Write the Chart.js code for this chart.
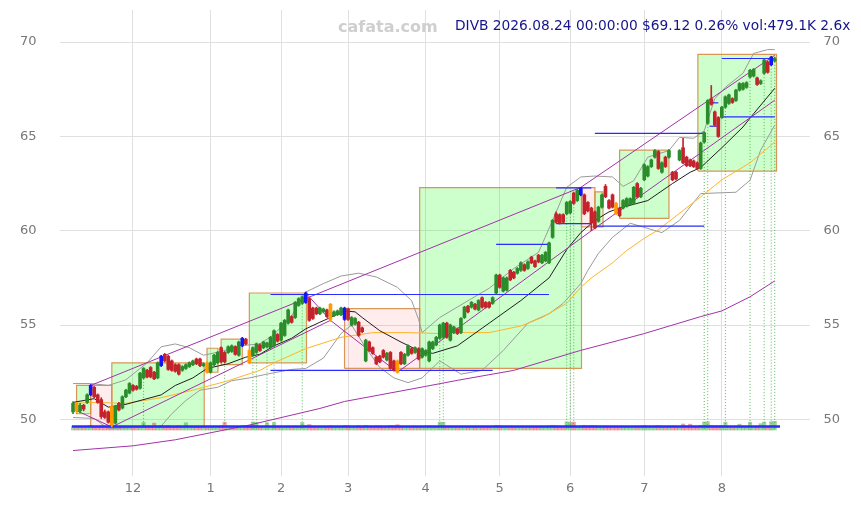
<!DOCTYPE html>
<html>
<head>
<meta charset="utf-8">
<script src="https://cdn.jsdelivr.net/npm/chart.js@4.4.1/dist/chart.umd.min.js"></script>
<style>
  body { margin: 0; background: #fff; }
  #wrap { position: relative; width: 861px; height: 505px; }
  .mark { position: absolute; top: 17px; left: 338px; line-height: 18px; font: bold 16px "DejaVu Sans"; color: #cfcfcf; }
  .title { position: absolute; top: 17px; left: 455px; line-height: 18px; font: 13.75px "DejaVu Sans"; color: #14148c; white-space: nowrap; }
</style>
</head>
<body>
<div id="wrap">
  <canvas id="chart" width="861" height="505"></canvas>
  <div class="mark">cafata.com</div>
  <div class="title">DIVB 2026.08.24 00:00:00 $69.12 0.26% vol:479.1K 2.6x</div>
</div>
<script>
// daily candles, 2025-11-05 .. 2026-08-24 (trading day index 0..199)
const opens = [
  50.4,50.85,50.45,50.75,50.9,51.3,51.7,51.3,51.05,50.4,
  50.4,50.7,49.8,50.85,50.6,51.2,51.4,51.8,51.75,51.65,
  52.2,52.6,52.75,52.5,52.2,52.85,53.45,53.35,53.1,52.9,
  52.9,52.6,52.7,52.8,52.9,53.2,53.2,52.85,53.0,52.5,
  52.9,53.0,53.8,53.55,53.55,53.6,53.85,53.4,53.9,54.25,
  53.65,53.4,53.55,53.95,53.8,53.85,53.8,53.9,54.5,54.2,
  54.45,55.1,55.45,55.4,56.05,56.15,56.2,56.4,55.9,55.9,
  55.6,55.7,55.8,56.1,55.5,55.55,55.55,55.3,55.85,55.0,
  55.05,55.15,54.85,53.1,54.1,53.8,53.3,53.35,53.65,53.15,
  53.55,53.1,53.1,53.55,52.95,53.4,53.75,53.55,53.75,53.3,
  53.4,53.1,53.75,53.95,54.3,54.35,55.1,54.2,54.6,54.8,
  54.6,55.4,56.0,55.95,56.1,55.8,56.45,56.2,56.2,56.15,
  56.7,57.65,56.8,56.85,57.9,57.8,57.75,57.9,58.2,58.0,
  58.6,58.4,58.7,58.3,58.4,58.3,59.65,60.9,60.85,60.85,
  60.9,60.95,62.0,61.6,61.9,61.9,61.5,61.2,61.0,60.5,
  61.25,62.35,61.6,61.9,61.45,61.2,61.2,61.3,61.4,61.45,
  62.5,61.8,62.7,62.9,63.4,63.9,64.2,63.1,63.9,63.9,
  63.1,63.1,63.75,64.4,63.9,63.75,63.7,63.6,63.3,64.7,
  65.7,67.0,66.3,66.0,66.0,66.55,66.75,67.0,66.9,67.45,
  67.5,67.6,68.15,68.2,68.1,67.8,68.35,68.95,68.8,69.0
];
const highs = [
  50.95,50.9,50.85,50.8,51.35,51.85,51.75,51.35,51.15,50.5,
  50.45,50.75,50.75,50.9,51.25,51.6,51.95,51.85,51.8,52.5,
  52.75,52.65,52.8,52.55,53.05,53.4,53.5,53.4,53.15,52.95,
  52.95,52.85,52.95,53.05,53.15,53.25,53.25,53.0,53.05,53.05,
  53.45,53.6,53.85,53.6,53.9,53.95,53.9,54.15,54.35,54.3,
  53.7,53.85,54.05,54.0,54.15,54.1,54.4,54.75,54.55,55.15,
  55.3,55.85,55.5,56.25,56.45,56.55,56.75,56.45,55.95,55.95,
  55.95,55.9,55.85,56.15,55.75,55.8,55.95,55.95,55.9,55.45,
  55.4,55.2,54.9,54.25,54.15,53.85,53.35,53.4,53.7,53.55,
  53.6,53.15,53.15,53.6,53.5,53.95,53.8,53.85,53.8,53.8,
  53.7,54.15,54.15,54.4,55.05,55.15,55.15,55.05,54.95,54.85,
  55.4,56.0,56.05,56.25,56.15,56.35,56.5,56.25,56.25,56.5,
  57.7,57.7,57.55,57.55,57.95,57.85,58.05,58.35,58.25,58.4,
  58.65,58.45,58.75,58.75,58.9,59.4,60.6,61.0,60.9,60.9,
  61.55,61.6,62.05,62.2,62.3,61.95,61.55,61.25,61.05,61.3,
  61.95,62.45,61.65,61.95,61.5,61.25,61.65,61.75,61.75,62.35,
  62.55,62.3,63.55,63.45,63.8,64.3,64.25,63.65,63.95,64.3,
  63.15,63.15,64.3,64.9,63.95,63.8,63.75,63.65,64.7,65.25,
  66.95,67.7,66.35,66.05,66.6,67.15,67.25,67.05,67.5,67.85,
  67.85,67.9,68.55,68.6,68.15,68.0,69.1,69.0,69.25,69.2
];
const lows = [
  50.3,50.3,50.35,50.45,50.85,51.25,51.15,50.85,50.05,50.05,
  49.8,49.6,49.75,50.45,50.55,51.15,51.35,51.5,51.55,51.6,
  52.15,52.2,52.2,52.1,52.15,52.8,53.05,52.6,52.55,52.5,
  52.35,52.55,52.65,52.75,52.85,52.9,52.8,52.8,52.45,52.45,
  52.85,52.95,53.0,53.0,53.5,53.55,53.4,53.35,53.85,53.95,
  52.95,53.35,53.5,53.6,53.75,53.8,53.75,53.85,54.1,54.15,
  54.4,55.05,55.1,55.35,56.0,56.1,56.15,55.2,55.3,55.55,
  55.55,55.65,55.4,55.2,55.45,55.5,55.5,55.25,55.25,54.95,
  55.0,54.4,54.6,53.05,53.6,53.45,52.9,53.0,53.25,53.1,
  52.65,52.55,52.45,52.9,52.9,53.35,53.45,53.5,53.15,53.25,
  53.35,53.05,53.7,53.9,54.25,54.3,54.3,54.15,54.55,54.5,
  54.55,55.35,55.65,55.9,55.8,55.75,55.9,55.9,55.9,56.1,
  56.65,56.95,56.75,56.8,57.35,57.45,57.7,57.85,57.85,57.95,
  58.25,58.05,58.3,58.25,58.35,58.25,59.6,60.4,60.35,60.4,
  60.85,60.9,61.4,61.55,61.85,60.85,61.0,60.0,60.1,60.45,
  61.2,61.75,61.15,61.2,60.85,60.75,61.15,61.25,61.35,61.4,
  61.75,61.75,62.65,62.85,63.35,63.85,63.25,63.05,63.35,63.85,
  62.65,62.7,63.7,63.55,63.4,63.4,63.35,63.25,63.25,64.65,
  65.65,66.65,65.55,64.95,65.95,66.5,66.7,66.75,66.85,67.4,
  67.45,67.55,68.1,68.15,67.7,67.75,68.3,68.35,68.75,68.95
];
const closes = [
  50.85,50.45,50.75,50.55,51.3,51.8,51.2,50.9,50.15,50.1,
  49.85,49.7,50.7,50.5,51.2,51.55,51.9,51.55,51.6,52.45,
  52.7,52.25,52.25,52.15,53.0,53.35,53.1,52.65,52.6,52.55,
  52.4,52.8,52.9,53.0,53.1,52.95,52.85,52.95,52.5,53.0,
  53.4,53.55,53.05,53.05,53.85,53.9,53.45,54.1,54.3,54.0,
  53.0,53.8,54.0,53.65,54.1,54.05,54.35,54.7,54.15,55.1,
  55.25,55.8,55.15,56.2,56.4,56.5,56.7,55.25,55.35,55.6,
  55.9,55.85,55.45,55.3,55.7,55.75,55.9,55.9,55.3,55.4,
  55.35,54.45,54.65,54.2,53.65,53.5,52.95,53.05,53.3,53.5,
  52.7,52.6,52.5,52.95,53.45,53.9,53.5,53.8,53.2,53.75,
  53.65,54.1,54.1,54.35,55.0,55.1,54.35,55.0,54.9,54.55,
  55.35,55.95,55.7,56.2,55.85,56.3,55.95,55.95,55.95,56.45,
  57.65,57.0,57.5,57.5,57.4,57.5,58.0,58.3,57.9,58.35,
  58.3,58.1,58.35,58.7,58.85,59.35,60.55,60.45,60.4,60.45,
  61.5,61.55,61.45,62.15,62.25,60.9,61.05,60.4,60.15,61.25,
  61.9,61.8,61.2,61.25,60.9,60.8,61.6,61.7,61.7,62.3,
  61.8,62.25,63.5,63.4,63.75,64.25,63.3,63.6,63.4,64.25,
  62.7,62.75,64.25,63.6,63.45,63.45,63.4,63.3,64.65,65.2,
  66.9,66.7,65.6,65.0,66.55,67.1,67.2,66.8,67.45,67.8,
  67.8,67.85,68.5,68.55,67.75,67.95,69.05,68.4,69.2,69.12
];
// volume in thousands
const volumes = [
  210,180,160,190,170,260,200,180,230,190,
  220,300,250,180,170,160,190,150,170,200,
  420,230,210,380,190,250,210,240,200,180,
  230,190,400,170,160,150,180,190,210,160,
  170,190,230,430,180,160,170,190,240,200,
  260,440,420,180,190,400,170,410,160,200,
  190,210,170,220,180,410,260,300,210,190,
  160,150,170,230,160,150,170,240,230,180,
  170,240,190,260,210,200,230,220,180,170,
  240,230,290,210,180,190,170,160,200,190,
  180,230,170,190,430,420,200,210,170,160,
  190,200,170,160,150,180,170,160,150,170,
  260,230,190,200,220,180,170,190,160,170,
  180,170,190,170,160,220,260,230,210,200,
  450,420,430,200,220,260,230,250,240,220,
  200,230,190,210,220,200,170,160,150,200,
  210,170,240,180,190,220,240,190,200,210,
  230,200,190,330,220,320,210,200,260,440,
  450,260,240,250,250,430,200,190,210,320,
  200,190,430,180,200,350,440,210,460,479.1
];

const blueCandles = [5, 25, 48, 66, 77, 144, 198];
const orangeCandles = [1, 11, 38, 50, 73, 92, 154];
const spikeDays = [20, 43, 51, 52, 55, 57, 65, 104, 105, 140, 141, 142, 179, 180, 185, 192, 196, 198, 199];

const monthTicks = [17, 39, 59, 78, 100, 121, 141, 162, 184];
const monthLabels = ['12', '1', '2', '3', '4', '5', '6', '7', '8'];
const priceTicks = [50, 55, 60, 65, 70];

// indicator lines, [day, price]
const shortMA = [[0,50.9],[6,51.1],[10,50.65],[15,50.8],[19,51.0],[25,51.3],[29,51.8],[34,52.2],[38,52.7],
  [44,52.95],[49,53.3],[53,53.45],[57,53.9],[62,54.3],[66,54.8],[70,55.15],[73,55.4],[77,55.75],[80,55.7],
  [82,55.4],[87,54.7],[93,54.1],[98,53.65],[102,53.5],[109,53.9],[118,55.1],[127,56.3],[135,57.5],[140,59.0],
  [144,59.9],[148,60.55],[152,61.0],[155,61.2],[163,61.6],[170,62.5],[175,63.1],[178,63.35],[184,64.4],
  [190,65.5],[193,66.2],[199,67.55]];
const midMA = [[0,50.85],[6,50.9],[15,50.85],[25,51.15],[34,51.55],[44,52.05],[53,52.6],[57,53.0],[66,53.75],
  [76,54.35],[85,54.6],[95,54.6],[104,54.55],[108,54.6],[118,54.6],[127,54.95],[133,55.4],[140,56.15],
  [144,57.0],[147,57.5],[153,58.3],[157,58.95],[162,59.6],[166,60.05],[178,61.8],[184,62.7],[192,63.6],[199,64.7]];
const longMA = [[0,48.35],[17,48.6],[29,48.92],[50,49.7],[70,50.58],[77,50.95],[100,51.75],[109,52.07],
  [125,52.6],[144,53.66],[155,54.2],[162,54.55],[178,55.45],[184,55.75],[192,56.5],[199,57.34]];
const upperBand = [[0,51.9],[5,51.9],[10,51.8],[15,52.1],[21,53.0],[25,53.85],[29,54.0],[33,53.8],[37,53.4],
  [42,53.6],[47,53.9],[53,54.0],[57,54.5],[62,55.5],[66,56.75],[71,57.2],[76,57.6],[81,57.75],[86,57.55],
  [92,57.0],[96,56.3],[98,55.3],[99,54.6],[104,55.4],[113,56.4],[118,56.95],[125,58.0],[132,58.85],
  [136,60.55],[140,62.3],[144,62.85],[148,62.9],[153,62.85],[156,62.35],[159,62.65],[163,63.9],[169,64.25],
  [172,64.95],[176,64.9],[179,65.3],[182,67.0],[185,67.6],[190,68.35],[193,69.4],[197,69.6],[199,69.6]];
const lowerBand = [[0,50.1],[6,50.05],[10,49.5],[21,49.6],[25,49.65],[28,50.3],[32,51.0],[36,51.55],[41,51.7],
  [45,52.05],[50,52.2],[55,52.4],[62,52.65],[66,52.7],[71,53.25],[76,54.55],[79,55.0],[83,53.8],[87,52.75],
  [91,52.2],[95,51.95],[99,52.2],[104,53.1],[110,52.4],[116,52.6],[122,53.65],[129,55.1],[135,55.6],
  [139,56.15],[144,57.2],[146,57.9],[149,58.8],[153,59.65],[158,60.4],[167,59.9],[172,60.55],[178,61.97],
  [188,62.04],[192,62.68],[195,64.27],[199,65.6]];

// swing boxes: [fromDay, toDay, low, high, rising]
const boxes = [
  [1, 5, 50.3, 51.8, true],
  [5, 11, 49.6, 51.8, false],
  [11, 37.2, 49.6, 53.0, true],
  [38, 41.1, 52.5, 53.77, true],
  [42, 48, 52.9, 54.25, true],
  [50, 66.2, 53.0, 56.7, true],
  [77, 98.3, 52.7, 55.87, false],
  [98.3, 144.2, 52.7, 62.29, true],
  [144.2, 148, 60.2, 62.29, false],
  [148, 150.3, 60.2, 62.06, true],
  [155, 169, 60.65, 64.27, true],
  [177.2, 199.5, 63.16, 69.35, true]
];
// support / resistance: [fromDay, toDay, price]
const levels = [
  [56, 135, 56.62], [56, 119, 52.6], [120, 135, 59.28],
  [137, 147, 62.27], [137, 147, 60.38], [148, 179, 60.24], [148, 179, 65.16],
  [184, 199, 69.13], [184, 199, 66.04], [180.5, 183, 66.78], [180.5, 183, 65.54]
];
const floorLevel = [-0.3, 200.5, 49.62];
// trend lines: [day1, price1, day2, price2]
const trends = [
  [0, 50.55, 11, 49.6], [11, 49.6, 73, 55.25], [66, 56.7, 73, 55.25], [73, 55.25, 92, 52.5],
  [92, 52.5, 147, 60.0], [147, 60.0, 199, 66.92], [5, 51.8, 144, 62.3], [144, 62.3, 199, 69.3]
];

const days = closes.map((c, i) => i);
const pts = arr => arr.map(([x, y]) => ({x, y}));

function candleColor(i) {
  if (blueCandles.includes(i)) return '#1414ff';
  if (orangeCandles.includes(i)) return '#ff9a00';
  return closes[i] >= opens[i] ? '#2a8c2a' : '#c4232b';
}

const datasets = [];
datasets.push({
  type: 'bar', data: days.map(i => ({x: i, y: [opens[i], closes[i]]})),
  backgroundColor: days.map(candleColor), barThickness: 3, grouped: false, order: 1
});
datasets.push({
  type: 'bar', data: days.map(i => ({x: i, y: [lows[i], highs[i]]})),
  backgroundColor: days.map(candleColor), barThickness: 1, grouped: false, order: 2
});

const lineStyle = (color, width, order) => ({
  type: 'line', borderColor: color, borderWidth: width, pointRadius: 0, fill: false, order: order
});

levels.concat([floorLevel]).forEach(([a, b, p]) => {
  const isFloor = p === floorLevel[2];
  datasets.push(Object.assign(lineStyle('#2b2bff', isFloor ? 2.5 : 1.2, 3),
    {data: [{x: a, y: p}, {x: b, y: p}]}));
});

trends.forEach(([a, pa, b, pb]) => {
  datasets.push(Object.assign(lineStyle('#a232a8', 1, 4), {data: [{x: a, y: pa}, {x: b, y: pb}]}));
});

datasets.push(Object.assign(lineStyle('#1e1e1e', 1, 5), {data: pts(shortMA)}));
datasets.push(Object.assign(lineStyle('#ffb428', 1, 5), {data: pts(midMA)}));
datasets.push(Object.assign(lineStyle('#a232a8', 1, 5), {data: pts(longMA)}));
datasets.push(Object.assign(lineStyle('#9a9a9a', 1, 6), {data: pts(upperBand)}));
datasets.push(Object.assign(lineStyle('#9a9a9a', 1, 6), {data: pts(lowerBand)}));

datasets.push({
  type: 'bar', yAxisID: 'yv', data: days.map(i => ({x: i, y: volumes[i]})),
  backgroundColor: days.map(i => closes[i] >= opens[i] ? 'rgba(40,160,40,0.45)' : 'rgba(210,50,60,0.45)'),
  barThickness: 3.4, grouped: false, order: 7
});

spikeDays.forEach(i => {
  datasets.push(Object.assign(lineStyle('rgba(40,160,40,0.75)', 1, 8),
    {borderDash: [1, 2], data: [{x: i, y: lows[i]}, {x: i, y: 49.45}]}));
});

boxes.forEach(([a, b, lo, hi, up]) => {
  datasets.push({
    type: 'line', order: 9, pointRadius: 0, fill: 'shape',
    borderColor: 'rgba(214,140,70,0.9)', borderWidth: 1.2,
    backgroundColor: up ? 'rgba(0,255,0,0.2)' : 'rgba(255,0,0,0.075)',
    data: [{x: a, y: lo}, {x: b, y: lo}, {x: b, y: hi}, {x: a, y: hi}, {x: a, y: lo}]
  });
});

const tickFont = {family: 'DejaVu Sans', size: 13};
const priceAxis = (pos, width) => ({
  position: pos, min: 47.0, max: 71.7,
  afterBuildTicks: s => { s.ticks = priceTicks.map(v => ({value: v})); },
  afterFit: s => { s.width = width; },
  ticks: {color: '#777', font: tickFont, padding: 0, crossAlign: 'far'},
  grid: {display: pos === 'left', color: '#e0e0e0', drawTicks: false},
  border: {display: false}
});

new Chart(document.getElementById('chart'), {
  type: 'line',
  data: {datasets: datasets},
  options: {
    responsive: false,
    animation: false,
    events: [],
    layout: {padding: {top: 10, left: 20, right: 21, bottom: 0}},
    plugins: {legend: {display: false}, tooltip: {enabled: false}},
    scales: {
      x: {
        type: 'linear', min: -3.7, max: 209, offset: false,
        afterBuildTicks: s => { s.ticks = monthTicks.map(v => ({value: v})); },
        afterFit: s => { s.height = 29; },
        ticks: {
          callback: v => monthLabels[monthTicks.indexOf(v)],
          color: '#777', font: tickFont, padding: 5, maxRotation: 0, autoSkip: false
        },
        grid: {color: '#e0e0e0', drawTicks: false, offset: false},
        border: {display: false}
      },
      y: priceAxis('left', 40),
      y2: priceAxis('right', 30),
      yv: {display: false, min: -2530, max: 23100}
    }
  }
});
</script>
</body>
</html>
